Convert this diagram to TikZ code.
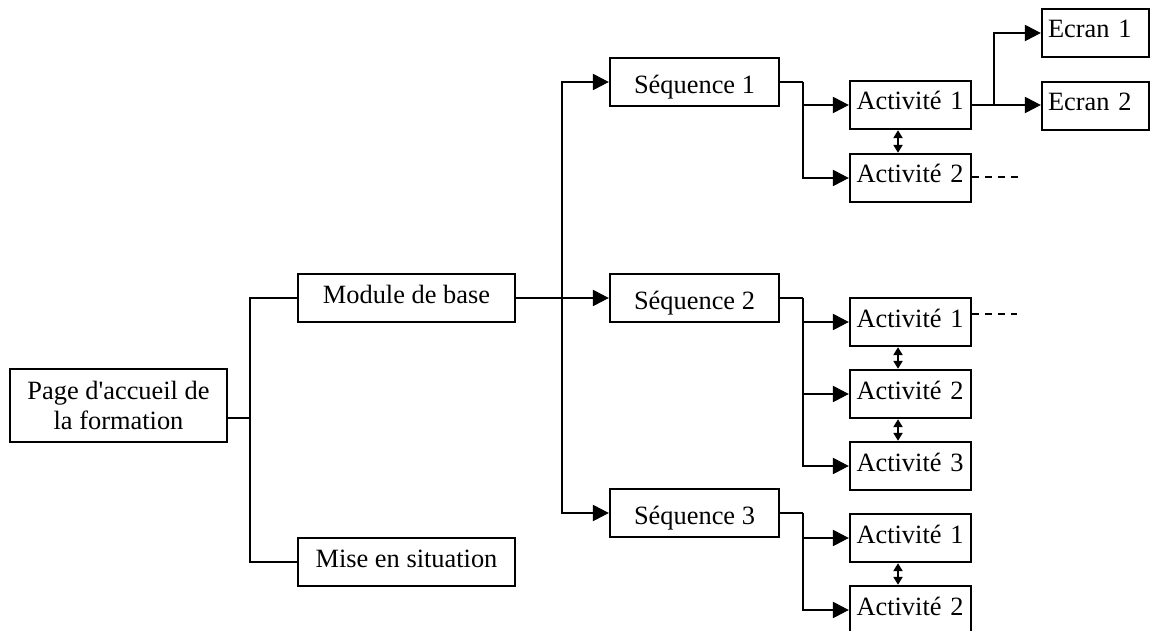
\documentclass[tikz,border=0pt]{standalone}
\usepackage{fontspec}
\setmainfont{Liberation Serif}[Ligatures=TeXOff]
\usetikzlibrary{arrows.meta}
\begin{document}
\begin{tikzpicture}[x=1pt,y=-1pt,
  every node/.style={font=\fontsize{26.4}{30}\selectfont},
  boxbase/.style={draw,line width=2.3pt,rectangle,inner sep=0pt,minimum height=48pt},
  wbox/.style={boxbase,minimum width=217pt,text height=14pt,text depth=4pt},
  seqbox/.style={boxbase,minimum width=169pt,text height=24pt,text depth=1pt},
  actbox/.style={boxbase,minimum width=121pt,inner xsep=6.5pt,text width=108pt,align=left,text height=14pt,text depth=4pt},
  ecrbox/.style={boxbase,minimum width=107pt,inner xsep=6pt,text width=95pt,align=left,text height=14pt,text depth=4pt},
  link/.style={line width=2.3pt},
  arr/.style={line width=2.3pt,-{Triangle[length=16pt,width=16pt]}},
  darr/.style={line width=2pt,{Triangle[length=8pt,width=9pt]}-{Triangle[length=8pt,width=9pt]}},
  dashline/.style={line width=2pt,dash pattern=on 7pt off 6pt}
]
\useasboundingbox (0,0) rectangle (1151,631);
\fill[white] (0,0) rectangle (1151,631);

% nodes
\node[boxbase,minimum width=217pt,minimum height=73pt,align=center] (page) at (118.5,405.5) {Page d'accueil de\\la formation};
\node[wbox] (module) at (406.5,298) {Module de base};
\node[wbox] (mise) at (406.5,562) {Mise en situation};

\node[seqbox] (seq1) at (694.5,82) {Séquence 1};
\node[seqbox] (seq2) at (694.5,298) {Séquence 2};
\node[seqbox] (seq3) at (694.5,513) {Séquence 3};

\node[actbox] (a11) at (910.5,105) {Activité 1};
\node[actbox] (a12) at (910.5,178) {Activité 2};
\node[actbox] (a21) at (910.5,322) {Activité 1};
\node[actbox] (a22) at (910.5,394) {Activité 2};
\node[actbox] (a23) at (910.5,466) {Activité 3};
\node[actbox] (a31) at (910.5,538) {Activité 1};
\node[actbox] (a32) at (910.5,610) {Activité 2};

\node[ecrbox] (e1) at (1095.5,33) {Ecran 1};
\node[ecrbox] (e2) at (1095.5,106) {Ecran 2};

% junction coordinates
\coordinate (j0) at (250,418);
\coordinate (j1) at (562,298);
\coordinate (k1) at (803,82);
\coordinate (k2) at (803,298);
\coordinate (k3) at (803,513);
\coordinate (k4) at (994,105);
\coordinate (d1) at (1019,177);
\coordinate (d2) at (1017,314);

% left part
\draw[link] (page.east |- j0) -- (j0);
\draw[link] (module.west) -| (j0) |- (mise.west);

% module to sequences
\draw[arr] (module.east) -- (seq2.west);
\draw[arr] (j1) |- (seq1.west);
\draw[arr] (j1) |- (seq3.west);

% sequence 1
\draw[link] (seq1.east) -- (k1);
\draw[arr] (k1) |- (a11.west);
\draw[arr] (k1) |- (a12.west);

% sequence 2
\draw[link] (seq2.east) -- (k2);
\draw[arr] (k2) |- (a21.west);
\draw[arr] (k2) |- (a22.west);
\draw[arr] (k2) |- (a23.west);

% sequence 3
\draw[link] (seq3.east) -- (k3);
\draw[arr] (k3) |- (a31.west);
\draw[arr] (k3) |- (a32.west);

% activité 1 to écrans
\draw[link] (a11.east) -- (k4);
\draw[arr] (k4) |- (e1.west);
\draw[arr] (k4) -- (e2.west |- k4);

% double arrows
\draw[darr] ([xshift=-12.5pt]a11.south) -- ([xshift=-12.5pt]a12.north);
\draw[darr] ([xshift=-12.5pt]a21.south) -- ([xshift=-12.5pt]a22.north);
\draw[darr] ([xshift=-12.5pt]a22.south) -- ([xshift=-12.5pt]a23.north);
\draw[darr] ([xshift=-12.5pt]a31.south) -- ([xshift=-12.5pt]a32.north);

% dashed continuations
\draw[dashline] (a12.east |- d1) -- (d1);
\draw[dashline] (a21.east |- d2) -- (d2);
\end{tikzpicture}
\end{document}
